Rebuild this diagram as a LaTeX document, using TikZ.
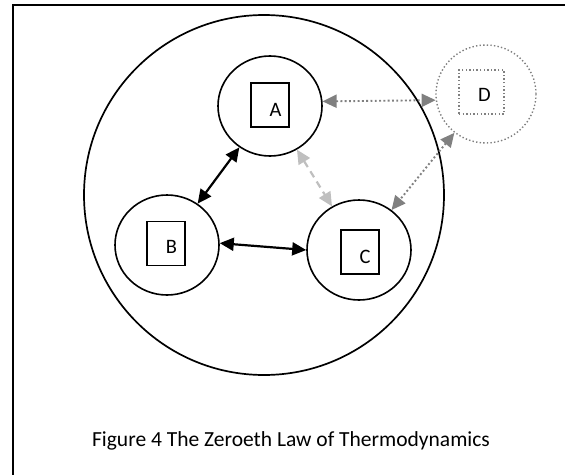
\documentclass[tikz,border=0pt]{standalone}
\usepackage{fontspec}
\setmainfont{Carlito}
\usetikzlibrary{shapes.geometric,arrows.meta}
\definecolor{dotgray}{HTML}{808080}
\definecolor{lightgray}{HTML}{BFBFBF}
\tikzset{
  body/.style={ellipse,draw,line width=1.6pt,minimum width=104pt,minimum height=100pt,inner sep=0pt},
  innerbox/.style={draw,line width=1.4pt,minimum width=38pt,minimum height=44pt,inner sep=0pt},
  lbl/.style={font=\fontsize{20.5}{24}\selectfont,inner sep=0pt},
  tip/.style={Triangle[length=14pt,width=13pt]},
  blackarrow/.style={line width=2.2pt,{Triangle[length=14pt,width=13pt]}-{Triangle[length=14pt,width=13pt]}},
  grayarrow/.style={line width=1.9pt,color=dotgray,dash pattern=on 1.9pt off 2.4pt,{Triangle[length=14pt,width=13pt]}-{Triangle[length=14pt,width=13pt]}},
  lightarrow/.style={line width=2.2pt,color=lightgray,dash pattern=on 7pt off 5pt,{Triangle[length=14pt,width=13pt]}-{Triangle[length=14pt,width=13pt]}},
}
\begin{document}
\begin{tikzpicture}[x=1pt,y=-1pt]
\useasboundingbox (0,0) rectangle (565,474);
\draw[line width=2.2pt] (13,476) -- (13,5) -- (567,5);
\node[ellipse,draw,line width=1.7pt,minimum width=360pt,minimum height=360pt] (outer) at (264,195) {};
\node[body] (A) at (270,106) {};
\node[body] (B) at (167,245) {};
\node[body] (C) at (359,250) {};
\node[body,draw=dotgray,line width=1.4pt,dash pattern=on 1.4pt off 2.2pt,minimum width=100pt,minimum height=98pt] (D) at (486,94) {};
\node[innerbox] (sA) at (270,105) {};
\node[innerbox] (sB) at (166,243.5) {};
\node[innerbox] (sC) at (360,252) {};
\node[innerbox,draw=dotgray,dash pattern=on 1.4pt off 2.2pt,minimum width=45pt] (sD) at (481.5,92) {};
\node[lbl] (tA) at (275.5,110) {A};
\node[lbl] (tB) at (171.5,247) {B};
\node[lbl] (tC) at (365,256.5) {C};
\node[lbl] (tD) at (484.5,95) {D};
\draw[blackarrow] (A) -- (B);
\draw[blackarrow] (B.2) -- (C.180);
\draw[lightarrow] (A) -- (C);
\draw[grayarrow] (A.5) -- (D.187);
\draw[grayarrow] (D) -- (C);
\node[font=\fontsize{21.5}{25}\selectfont,anchor=base,inner sep=0pt] (cap) at (291,446) {Figure 4 The Zeroeth Law of Thermodynamics};
\end{tikzpicture}
\end{document}
